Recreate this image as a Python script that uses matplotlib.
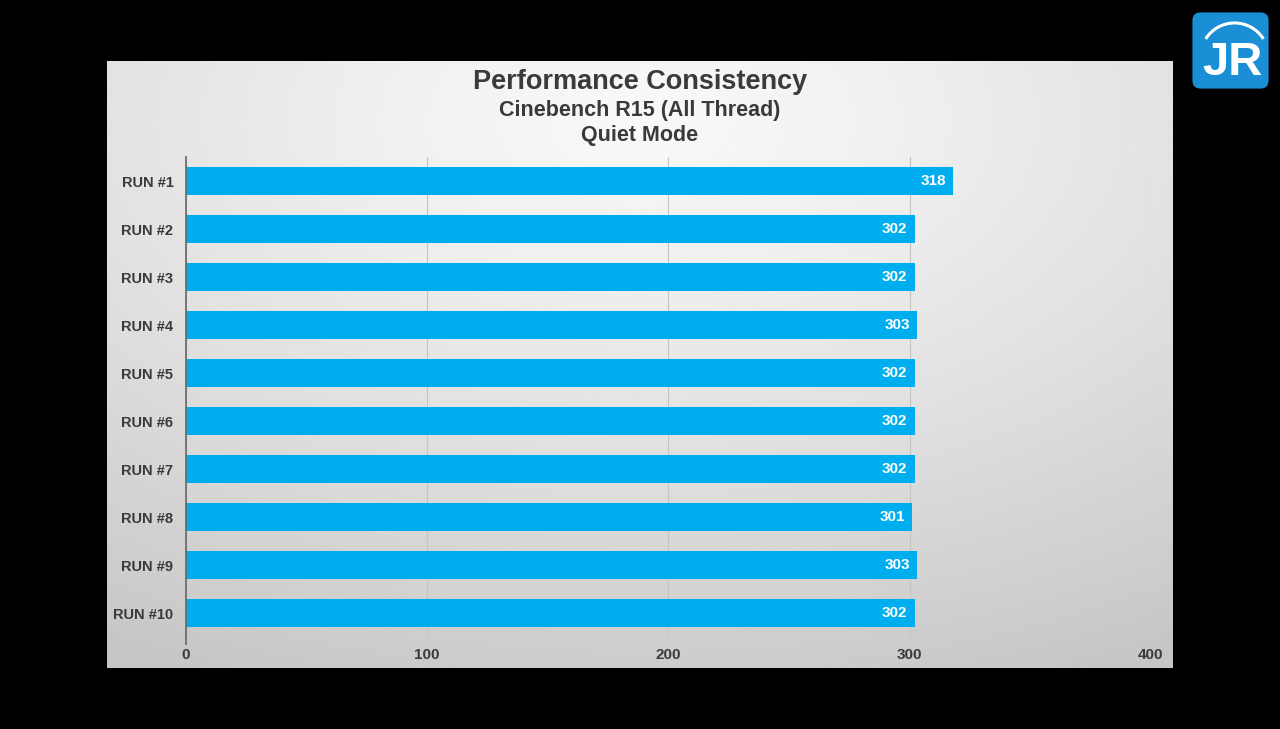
import numpy as np
import matplotlib
matplotlib.use("Agg")
import matplotlib.pyplot as plt
from matplotlib.patches import FancyBboxPatch, Arc

runs = ["RUN #1", "RUN #2", "RUN #3", "RUN #4", "RUN #5",
        "RUN #6", "RUN #7", "RUN #8", "RUN #9", "RUN #10"]
scores = [318, 302, 302, 303, 302, 302, 302, 301, 303, 302]
xticks = [0, 100, 200, 300, 400]

title = "Performance Consistency"
subtitle = "Cinebench R15 (All Thread)"
subtitle2 = "Quiet Mode"

bar_color = "#00AEEF"
text_color = "#3a3a3a"
plt.rcParams["font.family"] = ["Liberation Sans", "DejaVu Sans"]

fig = plt.figure(figsize=(12.8, 7.29), dpi=100, facecolor="black")

# gray gradient panel
bg = fig.add_axes([0.0836, 0.0837, 0.8328, 0.8327])
h, w = 300, 520
yy, xx = np.mgrid[0:h, 0:w]
d = np.sqrt(((xx - w * 0.5) / w) ** 2 + ((yy - h * 0.1) / h) ** 2)
grad = 0.975 - 0.2 * np.clip(d, 0, 1) ** 1.2
bg.imshow(grad, cmap="gray", vmin=0, vmax=1, aspect="auto",
          extent=[0, 1, 0, 1], origin="upper")
bg.set_axis_off()

fig.text(0.5, 0.888, title, ha="center", va="center", fontsize=19.5,
         fontweight="bold", color=text_color)
fig.text(0.5, 0.849, subtitle, ha="center", va="center", fontsize=15.5,
         fontweight="bold", color=text_color)
fig.text(0.5, 0.814, subtitle2, ha="center", va="center", fontsize=15.5,
         fontweight="bold", color=text_color)

ax = fig.add_axes([0.1453, 0.1262, 0.7539, 0.6584])
ax.patch.set_alpha(0)
y = np.arange(len(runs))
ax.barh(y, scores, height=0.58, color=bar_color, zorder=3)
for yi, v in zip(y, scores):
    ax.text(v - 3, yi, str(v), ha="right", va="center", color="white",
            fontsize=11, fontweight="bold", zorder=4)

ax.set_xlim(0, 400)
ax.set_ylim(len(runs) - 0.5, -0.5)
ax.set_yticks(y)
ax.set_yticklabels(runs, fontsize=10.5, color=text_color, fontweight="bold")
ax.set_xticks(xticks)
ax.set_xticklabels([str(t) for t in xticks], fontsize=11, color=text_color,
                   fontweight="bold")
ax.tick_params(axis="x", length=0, pad=8)
ax.tick_params(axis="y", length=0, pad=9)
ax.xaxis.grid(True, color="#c4c4c4", linewidth=0.8, zorder=0)
for s in ax.spines.values():
    s.set_visible(False)
ax.axvline(0, ymin=-0.015, ymax=1, color="#666666", linewidth=1.2,
           zorder=5, clip_on=False)

# logo
logo = fig.add_axes([1190 / 1280, 1 - 91 / 729, 81 / 1280, 81 / 729])
logo.set_xlim(0, 1)
logo.set_ylim(0, 1)
logo.set_axis_off()
logo.add_patch(FancyBboxPatch((0.03, 0.03), 0.94, 0.94,
                              boxstyle="round,pad=0,rounding_size=0.1",
                              facecolor="#1a8fd6", edgecolor="none"))
logo.add_patch(Arc((0.55, 0.42), 0.84, 0.84, theta1=32, theta2=148,
                   color="white", linewidth=2.2))
logo.text(0.52, 0.34, "JR", ha="center", va="center", color="white",
          fontsize=34, fontweight="bold")

fig.savefig("out.png", dpi=100, facecolor="black")
